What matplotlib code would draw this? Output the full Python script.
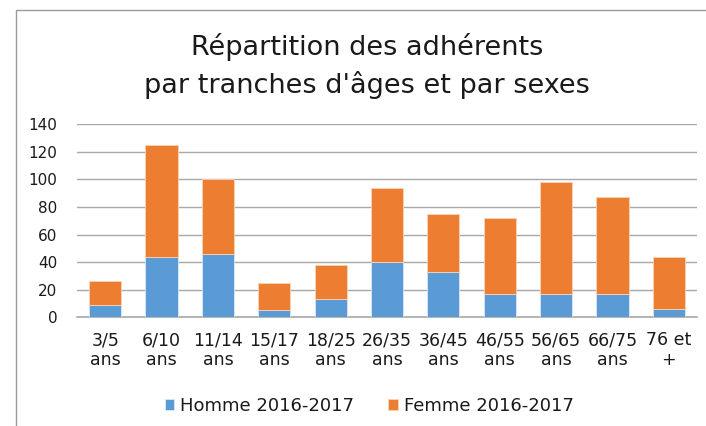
import matplotlib
matplotlib.use("Agg")
import matplotlib.pyplot as plt
from matplotlib.patches import Rectangle
import numpy as np

plt.rcParams["font.family"] = ["DejaVu Sans"]

categories = ["3/5\nans", "6/10\nans", "11/14\nans", "15/17\nans", "18/25\nans", "26/35\nans",
              "36/45\nans", "46/55\nans", "56/65\nans", "66/75\nans", "76 et\n+"]
homme = [9, 44, 46, 5, 13, 40, 33, 17, 17, 17, 6]
femme = [17, 81, 54, 20, 25, 54, 42, 55, 81, 70, 38]
yticks = [0, 20, 40, 60, 80, 100, 120, 140]

BLUE = "#5B9BD5"
ORANGE = "#ED7D31"

fig = plt.figure(figsize=(7.06, 4.26), dpi=100)
# chart frame
fig.patches.append(Rectangle((16 / 706, -0.1), 1.0, 1 - 10 / 426 + 0.1, transform=fig.transFigure,
                             fill=False, edgecolor="#9a9a9a", lw=1))
ax = fig.add_axes([77 / 706, 1 - 317.3 / 426, (697 - 77) / 706, (317.3 - 124.3) / 426])

x = np.arange(len(categories))
w = 0.57
ax.bar(x, homme, w, color=BLUE, edgecolor="#dbe8f5", lw=0.6, label="Homme 2016-2017", zorder=3)
ax.bar(x, femme, w, bottom=homme, color=ORANGE, edgecolor="#f8d3b8", lw=0.6,
       label="Femme 2016-2017", zorder=3)

ax.set_xlim(-0.5, len(categories) - 0.5)
ax.set_ylim(0, 140)
ax.set_yticks(yticks)
ax.set_xticks(x)
ax.set_xticklabels(categories, fontsize=12.5, linespacing=1.15, color="#1a1a1a")
ax.tick_params(axis="y", labelsize=11, length=0, pad=14, labelcolor="#1a1a1a")
ax.tick_params(axis="x", length=0, pad=10)
ax.grid(axis="y", color="#a8a8a8", lw=1.0, zorder=0)
for s in ["top", "right", "left"]:
    ax.spines[s].set_visible(False)
ax.spines["bottom"].set_color("#a8a8a8")
ax.spines["bottom"].set_linewidth(1.2)

fig.text(367 / 706, 1 - 55 / 426, "Répartition des adhérents", ha="center", va="baseline",
         fontsize=19.5, color="#1a1a1a")
fig.text(367 / 706, 1 - 93 / 426, "par tranches d'âges et par sexes", ha="center", va="baseline",
         fontsize=19.5, color="#1a1a1a")

ax.legend(loc="center", bbox_to_anchor=(369 / 706, 1 - 406 / 426), bbox_transform=fig.transFigure,
          ncol=2, frameon=False, fontsize=13, handlelength=0.55, handleheight=0.55,
          handletextpad=0.3, columnspacing=1.9, labelcolor="#1a1a1a")

plt.savefig("out.png", dpi=100)
